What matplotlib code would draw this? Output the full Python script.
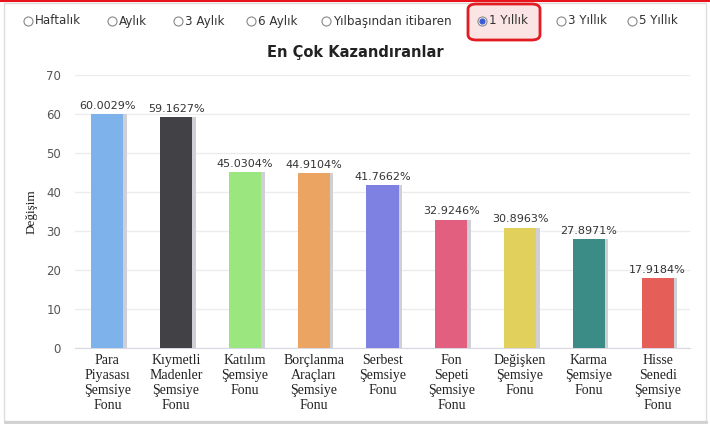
import matplotlib.pyplot as plt
from matplotlib.patches import FancyBboxPatch, Rectangle
from matplotlib.lines import Line2D

# Chart data
categories = ['Para\nPiyasası\nŞemsiye\nFonu', 'Kıymetli\nMadenler\nŞemsiye\nFonu',
              'Katılım\nŞemsiye\nFonu', 'Borçlanma\nAraçları\nŞemsiye\nFonu',
              'Serbest\nŞemsiye\nFonu', 'Fon\nSepeti\nŞemsiye\nFonu',
              'Değişken\nŞemsiye\nFonu', 'Karma\nŞemsiye\nFonu',
              'Hisse\nSenedi\nŞemsiye\nFonu']
values = [60.0029, 59.1627, 45.0304, 44.9104, 41.7662, 32.9246, 30.8963, 27.8971, 17.9184]
colors = ['#7db2ea', '#414146', '#9ce67f', '#eba461', '#7e80e2',
          '#e35f7f', '#e1d15c', '#3b8b86', '#e65e58']
periods = ['Haftalık', 'Aylık', '3 Aylık', '6 Aylık', 'Yılbaşından itibaren',
           '1 Yıllık', '3 Yıllık', '5 Yıllık']
selected = '1 Yıllık'
y_ticks = [0, 10, 20, 30, 40, 50, 60, 70]

W, H = 710, 428
fig = plt.figure(figsize=(W / 100, H / 100), dpi=100)

# outer frame and top red line
fig.add_artist(Rectangle((4 / W, 1 - 421 / H), 702 / W, 418 / H, transform=fig.transFigure,
                         facecolor='white', edgecolor='#dddddd', lw=1.0, zorder=0))
fig.add_artist(Line2D([5 / W, 706 / W], [1 - 422 / H, 1 - 422 / H], transform=fig.transFigure,
                      color='#d0d0d0', lw=2.0, zorder=0))
fig.add_artist(Line2D([0, 1], [1 - 1 / H, 1 - 1 / H], transform=fig.transFigure,
                      color='#e8141c', lw=1.5))

# period selector row
radio_x = [28, 112, 178, 251, 326, 482, 561, 632]
ry = 1 - 21 / H
fig.add_artist(FancyBboxPatch((468 / W, 1 - 40 / H), 72 / W, 36 / H,
                              boxstyle='round,pad=0,rounding_size=0.012',
                              transform=fig.transFigure, facecolor='#fbe4e4',
                              edgecolor='#e21b23', lw=2.0))
for px, name in zip(radio_x, periods):
    fig.add_artist(Line2D([px / W], [ry], transform=fig.transFigure, marker='o',
                          markersize=6.5, markerfacecolor='white',
                          markeredgecolor='#888888', markeredgewidth=0.8))
    if name == selected:
        fig.add_artist(Line2D([px / W], [ry], transform=fig.transFigure, marker='o',
                              markersize=3.5, color='#3d5ad6'))
    fig.text((px + 7) / W, ry, name, fontsize=8.6, color='#333333', va='center', ha='left')

ax = fig.add_axes([75 / W, 1 - 348 / H, 615 / W, 273 / H])
x = list(range(len(values)))

# bar shadows, then bars
ax.bar([i + 0.05 for i in x], values, width=0.47, color='#cfcfd6', zorder=2)
ax.bar(x, values, width=0.47, color=colors, zorder=3)
for i, v in zip(x, values):
    ax.text(i, v + 0.8, f'{v:.4f}%', ha='center', va='bottom', fontsize=8, color='#333333')

ax.set_xlim(-0.47, len(values) - 0.53)
ax.set_ylim(0, 70)
ax.set_yticks(y_ticks)
ax.tick_params(axis='y', length=0, pad=10, labelsize=8.5, labelcolor='#555555')
ax.set_xticks(x)
ax.set_xticklabels(categories, family='Liberation Serif', fontsize=10, linespacing=1.2,
                   color='#222222')
ax.tick_params(axis='x', length=0, pad=4)
ax.grid(axis='y', color='#ececec', lw=1.0, zorder=0)
for s in ['top', 'right', 'left']:
    ax.spines[s].set_visible(False)
ax.spines['bottom'].set_color('#d8d8e0')

ax.set_ylabel('Değişim', family='Liberation Serif', fontsize=9.5, color='#222222', labelpad=6)
fig.text(0.5, 1 - 53 / H, 'En Çok Kazandıranlar', ha='center', va='center',
         fontsize=10.5, fontweight='bold', color='#222222')

fig.savefig('out.png', dpi=100)
